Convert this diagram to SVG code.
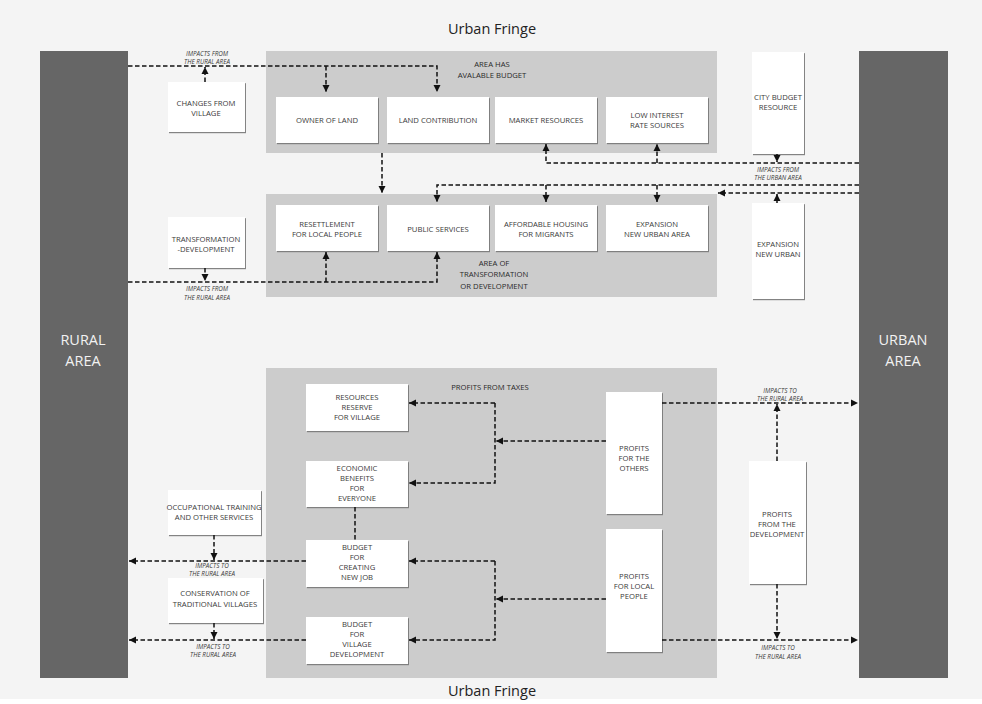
<svg xmlns="http://www.w3.org/2000/svg" width="982" height="704" viewBox="0 0 982 704">
<defs>
<marker id="ah" markerUnits="userSpaceOnUse" markerWidth="8" markerHeight="8" refX="7" refY="4" orient="auto">
<path d="M0,0.5 L7,4 L0,7.5 z" fill="#111"/>
</marker>
<filter id="sh" x="-10%" y="-10%" width="130%" height="130%">
<feDropShadow dx="1" dy="1.2" stdDeviation="0.6" flood-color="#777" flood-opacity="0.9"/>
</filter>
<style>
.bg{fill:#f4f4f4}
.bar{fill:#666}
.zone{fill:#cccccc}
.box{fill:#fff;filter:url(#sh)}
.t{font-family:"Open Sans","Liberation Sans",sans-serif;font-size:7.7px;fill:#3a3a3a;text-anchor:middle;dominant-baseline:central}
.h{font-family:"Open Sans","Liberation Sans",sans-serif;font-size:7.7px;fill:#2a2a2a;text-anchor:middle;dominant-baseline:central}
.i{font-family:"Open Sans","Liberation Sans",sans-serif;font-size:6.3px;font-style:italic;fill:#3a3a3a;text-anchor:middle;dominant-baseline:central}
.big{font-family:"Open Sans","Liberation Sans",sans-serif;font-size:14.5px;fill:#f2f2f2;text-anchor:middle;dominant-baseline:central}
.title{font-family:"Open Sans","Liberation Sans",sans-serif;font-size:14.5px;fill:#222;text-anchor:middle;dominant-baseline:central}
.c path{fill:none;stroke:#111;stroke-width:1.5;stroke-dasharray:4.5 2.5}
.a{marker-end:url(#ah)}
</style>
</defs>
<rect x="0" y="0" width="982" height="704" fill="#fff"/>
<rect class="bg" x="0" y="0" width="982" height="699"/>

<text class="title" x="492" y="28">Urban Fringe</text>
<text class="title" x="492" y="690">Urban Fringe</text>

<g id="rural-area"><rect class="bar" x="40" y="51" width="88" height="627"/><text class="big" x="83" y="339">RURAL</text><text class="big" x="83" y="360">AREA</text></g>
<g id="urban-area"><rect class="bar" x="859" y="51" width="89" height="627"/><text class="big" x="903" y="339">URBAN</text><text class="big" x="903" y="360">AREA</text></g>

<g id="zone-budget"><rect class="zone" x="266" y="51" width="451" height="102"/><text class="h" x="492" y="64">AREA HAS</text><text class="h" x="492" y="75">AVALABLE BUDGET</text></g>
<g id="zone-transformation"><rect class="zone" x="266" y="194" width="451" height="103"/><text class="h" x="494" y="263">AREA OF</text><text class="h" x="494" y="274">TRANSFORMATION</text><text class="h" x="494" y="286">OR DEVELOPMENT</text></g>
<g id="zone-taxes"><rect class="zone" x="266" y="368" width="451" height="310"/><text class="h" x="490" y="387">PROFITS FROM TAXES</text></g>

<g id="changes-village"><rect class="box" x="168" y="82" width="77" height="50"/><text class="t" x="206" y="103">CHANGES FROM</text><text class="t" x="206" y="113">VILLAGE</text></g>
<g id="owner-land"><rect class="box" x="276" y="97" width="102" height="46"/><text class="t" x="327" y="120">OWNER OF LAND</text></g>
<g id="land-contribution"><rect class="box" x="387" y="97" width="102" height="46"/><text class="t" x="438" y="120">LAND CONTRIBUTION</text></g>
<g id="market-resources"><rect class="box" x="495" y="97" width="102" height="46"/><text class="t" x="546" y="120">MARKET RESOURCES</text></g>
<g id="low-interest"><rect class="box" x="606" y="97" width="102" height="46"/><text class="t" x="657" y="115">LOW INTEREST</text><text class="t" x="657" y="125">RATE SOURCES</text></g>
<g id="city-budget"><rect class="box" x="752" y="52" width="52" height="102"/><text class="t" x="778" y="97">CITY BUDGET</text><text class="t" x="778" y="107">RESOURCE</text></g>

<g id="transformation-dev"><rect class="box" x="168" y="217" width="77" height="51"/><text class="t" x="206" y="239">TRANSFORMATION</text><text class="t" x="206" y="249">-DEVELOPMENT</text></g>
<g id="resettlement"><rect class="box" x="276" y="205" width="102" height="46"/><text class="t" x="327" y="224">RESETTLEMENT</text><text class="t" x="327" y="234">FOR LOCAL PEOPLE</text></g>
<g id="public-services"><rect class="box" x="387" y="205" width="102" height="46"/><text class="t" x="438" y="229">PUBLIC SERVICES</text></g>
<g id="affordable-housing"><rect class="box" x="495" y="205" width="102" height="46"/><text class="t" x="546" y="224">AFFORDABLE HOUSING</text><text class="t" x="546" y="234">FOR MIGRANTS</text></g>
<g id="expansion-area"><rect class="box" x="606" y="205" width="102" height="46"/><text class="t" x="657" y="224">EXPANSION</text><text class="t" x="657" y="234">NEW URBAN AREA</text></g>
<g id="expansion-new-urban"><rect class="box" x="752" y="203" width="52" height="96"/><text class="t" x="778" y="244">EXPANSION</text><text class="t" x="778" y="254">NEW URBAN</text></g>

<g id="resources-reserve"><rect class="box" x="306" y="384" width="102" height="47"/><text class="t" x="357" y="397">RESOURCES</text><text class="t" x="357" y="407">RESERVE</text><text class="t" x="357" y="417">FOR VILLAGE</text></g>
<g id="economic-benefits"><rect class="box" x="306" y="461" width="102" height="46"/><text class="t" x="357" y="468">ECONOMIC</text><text class="t" x="357" y="478">BENEFITS</text><text class="t" x="357" y="488">FOR</text><text class="t" x="357" y="498">EVERYONE</text></g>
<g id="budget-job"><rect class="box" x="306" y="540" width="102" height="47"/><text class="t" x="357" y="547">BUDGET</text><text class="t" x="357" y="557">FOR</text><text class="t" x="357" y="567">CREATING</text><text class="t" x="357" y="577">NEW JOB</text></g>
<g id="budget-village"><rect class="box" x="306" y="617" width="102" height="47"/><text class="t" x="357" y="624">BUDGET</text><text class="t" x="357" y="634">FOR</text><text class="t" x="357" y="644">VILLAGE</text><text class="t" x="357" y="654">DEVELOPMENT</text></g>
<g id="occupational-training"><rect class="box" x="168" y="490" width="93" height="45"/><text class="t" x="214" y="507">OCCUPATIONAL TRAINING</text><text class="t" x="214" y="517">AND OTHER SERVICES</text></g>
<g id="conservation"><rect class="box" x="168" y="578" width="95" height="45"/><text class="t" x="215" y="593">CONSERVATION OF</text><text class="t" x="215" y="604">TRADITIONAL VILLAGES</text></g>
<g id="profits-others"><rect class="box" x="606" y="392" width="56" height="122"/><text class="t" x="634" y="448">PROFITS</text><text class="t" x="634" y="458">FOR THE</text><text class="t" x="634" y="468">OTHERS</text></g>
<g id="profits-local"><rect class="box" x="606" y="529" width="56" height="123"/><text class="t" x="634" y="576">PROFITS</text><text class="t" x="634" y="586">FOR LOCAL</text><text class="t" x="634" y="596">PEOPLE</text></g>
<g id="profits-development"><rect class="box" x="749" y="461" width="57" height="123"/><text class="t" x="777" y="514">PROFITS</text><text class="t" x="777" y="524">FROM THE</text><text class="t" x="777" y="534">DEVELOPMENT</text></g>

<g id="connectors" class="c">
<path class="a" d="M128,66 H437 V92"/>
<path class="a" d="M326,66 V92"/>
<path class="a" d="M205,82 V67"/>
<path class="a" d="M382,153 V193"/>
<path class="a" d="M859,163 H546 V144"/>
<path class="a" d="M657,163 V144"/>
<path class="a" d="M777,154 V162"/>
<path class="a" d="M859,185 H437 V202"/>
<path class="a" d="M546,185 V202"/>
<path class="a" d="M657,185 V202"/>
<path class="a" d="M859,193 H718"/>
<path class="a" d="M777,203 V194"/>
<path class="a" d="M128,282 H437 V252"/>
<path class="a" d="M326,282 V252"/>
<path class="a" d="M205,268 V281"/>
<path class="a" d="M495,403 H409"/>
<path class="a" d="M495,403 V483 H409"/>
<path class="a" d="M606,441 H496"/>
<path class="a" d="M495,561 H409"/>
<path class="a" d="M495,561 V640 H409"/>
<path class="a" d="M606,599 H496"/>
<path class="a" d="M306,561 H129"/>
<path class="a" d="M214,535 V560"/>
<path class="a" d="M306,640 H129"/>
<path class="a" d="M214,623 V639"/>
<path class="a" d="M662,403 H858"/>
<path class="a" d="M777,461 V404"/>
<path class="a" d="M662,640 H858"/>
<path class="a" d="M777,584 V639"/>
<path d="M355,507 V540"/>
</g>

<g id="labels">
<text class="i" x="207" y="53">IMPACTS FROM</text><text class="i" x="207" y="61">THE RURAL AREA</text>
<text class="i" x="207" y="288">IMPACTS FROM</text><text class="i" x="207" y="297">THE RURAL AREA</text>
<text class="i" x="778" y="169">IMPACTS FROM</text><text class="i" x="778" y="177">THE URBAN AREA</text>
<text class="i" x="212" y="565">IMPACTS TO</text><text class="i" x="212" y="573">THE RURAL AREA</text>
<text class="i" x="213" y="646">IMPACTS TO</text><text class="i" x="213" y="654">THE RURAL AREA</text>
<text class="i" x="780" y="390">IMPACTS TO</text><text class="i" x="780" y="398">THE RURAL AREA</text>
<text class="i" x="778" y="647">IMPACTS TO</text><text class="i" x="778" y="656">THE RURAL AREA</text>
</g>
</svg>
